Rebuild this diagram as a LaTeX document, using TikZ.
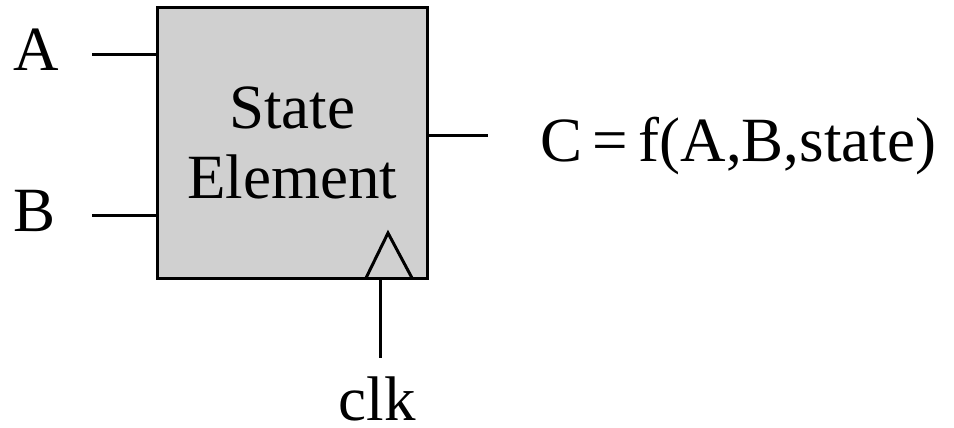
\documentclass[tikz,border=0pt]{standalone}
\usepackage{fontspec}
\setmainfont{Liberation Serif}
\definecolor{boxgray}{RGB}{208,208,208}
\begin{document}
\begin{tikzpicture}[x=1pt,y=-1pt,
  wire/.style={line width=3pt},
  lbl/.style={font=\fontsize{63}{70}\selectfont, inner sep=0pt}]
\useasboundingbox (0,0) rectangle (954,428);
\node[draw, line width=3pt, fill=boxgray, minimum width=270pt, minimum height=270pt, inner sep=0pt] (se) at (292,143) {};
\node[lbl, align=center, anchor=center] (txt) at (292,143) {State\\Element};
% inputs
\node[lbl, anchor=base west] (a) at (13,71) {A};
\node[lbl, anchor=base west] (b) at (13,231) {B};
\coordinate (aend) at (92,55);
\coordinate (bend) at (92,215);
\draw[wire] (aend) -- (se.west |- aend);
\draw[wire] (bend) -- (se.west |- bend);
% output
\coordinate (cend) at (488,135);
\draw[wire] (se.east |- cend) -- (cend);
\node[lbl, anchor=base west] (c) at (540,161) {C\,=\,f(A,B,state)};
% clock
\draw[wire, line join=miter] (366,278) -- (388,233) -- (412,278);
\coordinate (clkend) at (380,358);
\draw[wire] (se.south -| clkend) -- (clkend);
\node[lbl, anchor=base] (clk) at (377,420) {clk};
\end{tikzpicture}
\end{document}
